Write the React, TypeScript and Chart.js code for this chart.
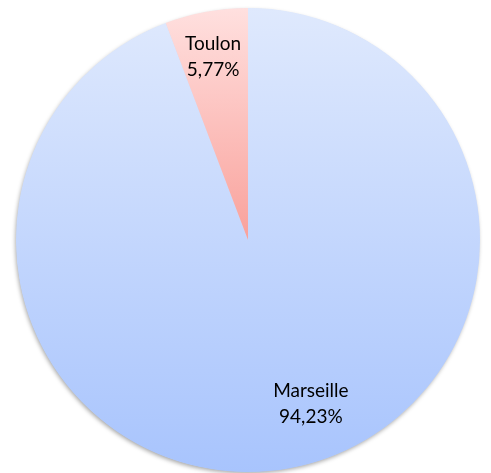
import React, { useEffect, useRef } from "react";
import { Chart, registerables } from "chart.js";

Chart.register(...registerables);

const categories = ["Marseille", "Toulon"];
const values = [94.23, 5.77];
const percentLabels = ["94,23%", "5,77%"];

const topColors = ["#dfe9fd", "#ffe0df"];
const bottomColors = ["#a8c4fd", "#f9a19b"];
// label placement along each slice: [radius fraction, angle offset in degrees from slice mid]
const labelRadius = [0.75, 0.81];
const labelAngleShift = [-10.8, -0.3];

export default function App() {
  const ref = useRef<HTMLCanvasElement | null>(null);

  useEffect(() => {
    const canvas = ref.current;
    if (!canvas) return;

    const shadowPlugin = {
      id: "pieShadow",
      beforeDatasetsDraw(chart: any) {
        const arc = chart.getDatasetMeta(0).data[0];
        if (!arc || !isFinite(arc.x)) return;
        const ctx = chart.ctx;
        ctx.save();
        ctx.shadowColor = "rgba(0,0,0,0.35)";
        ctx.shadowBlur = 4;
        ctx.shadowOffsetX = -1;
        ctx.shadowOffsetY = 2;
        ctx.fillStyle = "#cfdcf5";
        ctx.beginPath();
        ctx.arc(arc.x, arc.y, arc.outerRadius - 0.5, 0, Math.PI * 2);
        ctx.fill();
        ctx.restore();
      },
    };

    const labelPlugin = {
      id: "sliceLabels",
      afterDatasetsDraw(chart: any) {
        const ctx = chart.ctx;
        const meta = chart.getDatasetMeta(0);
        ctx.save();
        ctx.fillStyle = "#000";
        ctx.font = "19px Lato, 'Open Sans', sans-serif";
        ctx.textAlign = "center";
        ctx.textBaseline = "alphabetic";
        meta.data.forEach((arc: any, i: number) => {
          const mid = (arc.startAngle + arc.endAngle) / 2 + (labelAngleShift[i] * Math.PI) / 180;
          const r = arc.outerRadius * labelRadius[i];
          const x = arc.x + Math.cos(mid) * r;
          const y = arc.y + Math.sin(mid) * r;
          ctx.fillText(categories[i], x, y - 5);
          ctx.fillText(percentLabels[i], x, y + 21);
        });
        ctx.restore();
      },
    };

    const chart = new Chart(canvas, {
      type: "pie",
      data: {
        labels: categories,
        datasets: [
          {
            data: values,
            backgroundColor: (c: any) => {
              const i = c.dataIndex;
              const chartArea = c.chart.chartArea;
              if (!chartArea || !isFinite(chartArea.top) || !isFinite(chartArea.bottom)) return topColors[i];
              const top = chartArea.top;
              let bottom = chartArea.bottom;
              if (i === 1) bottom = (chartArea.top + chartArea.bottom) / 2;
              if (!(bottom > top)) return topColors[i];
              const g = c.chart.ctx.createLinearGradient(0, top, 0, bottom);
              g.addColorStop(0, topColors[i]);
              g.addColorStop(1, bottomColors[i]);
              return g;
            },
            borderWidth: 0,
          },
        ],
      },
      options: {
        responsive: false,
        animation: false,
        rotation: 0,
        layout: { padding: { top: 8, bottom: 1, left: 16, right: 11 } },
        plugins: {
          legend: { display: false },
          tooltip: { enabled: false },
        },
      },
      plugins: [shadowPlugin, labelPlugin],
    });
    chart.update();

    return () => chart.destroy();
  }, []);

  return (
    <div style={{ position: "fixed", left: 0, top: 0, width: 491, height: 473, background: "#fff" }}>
      <canvas ref={ref} width={491} height={473} />
    </div>
  );
}
